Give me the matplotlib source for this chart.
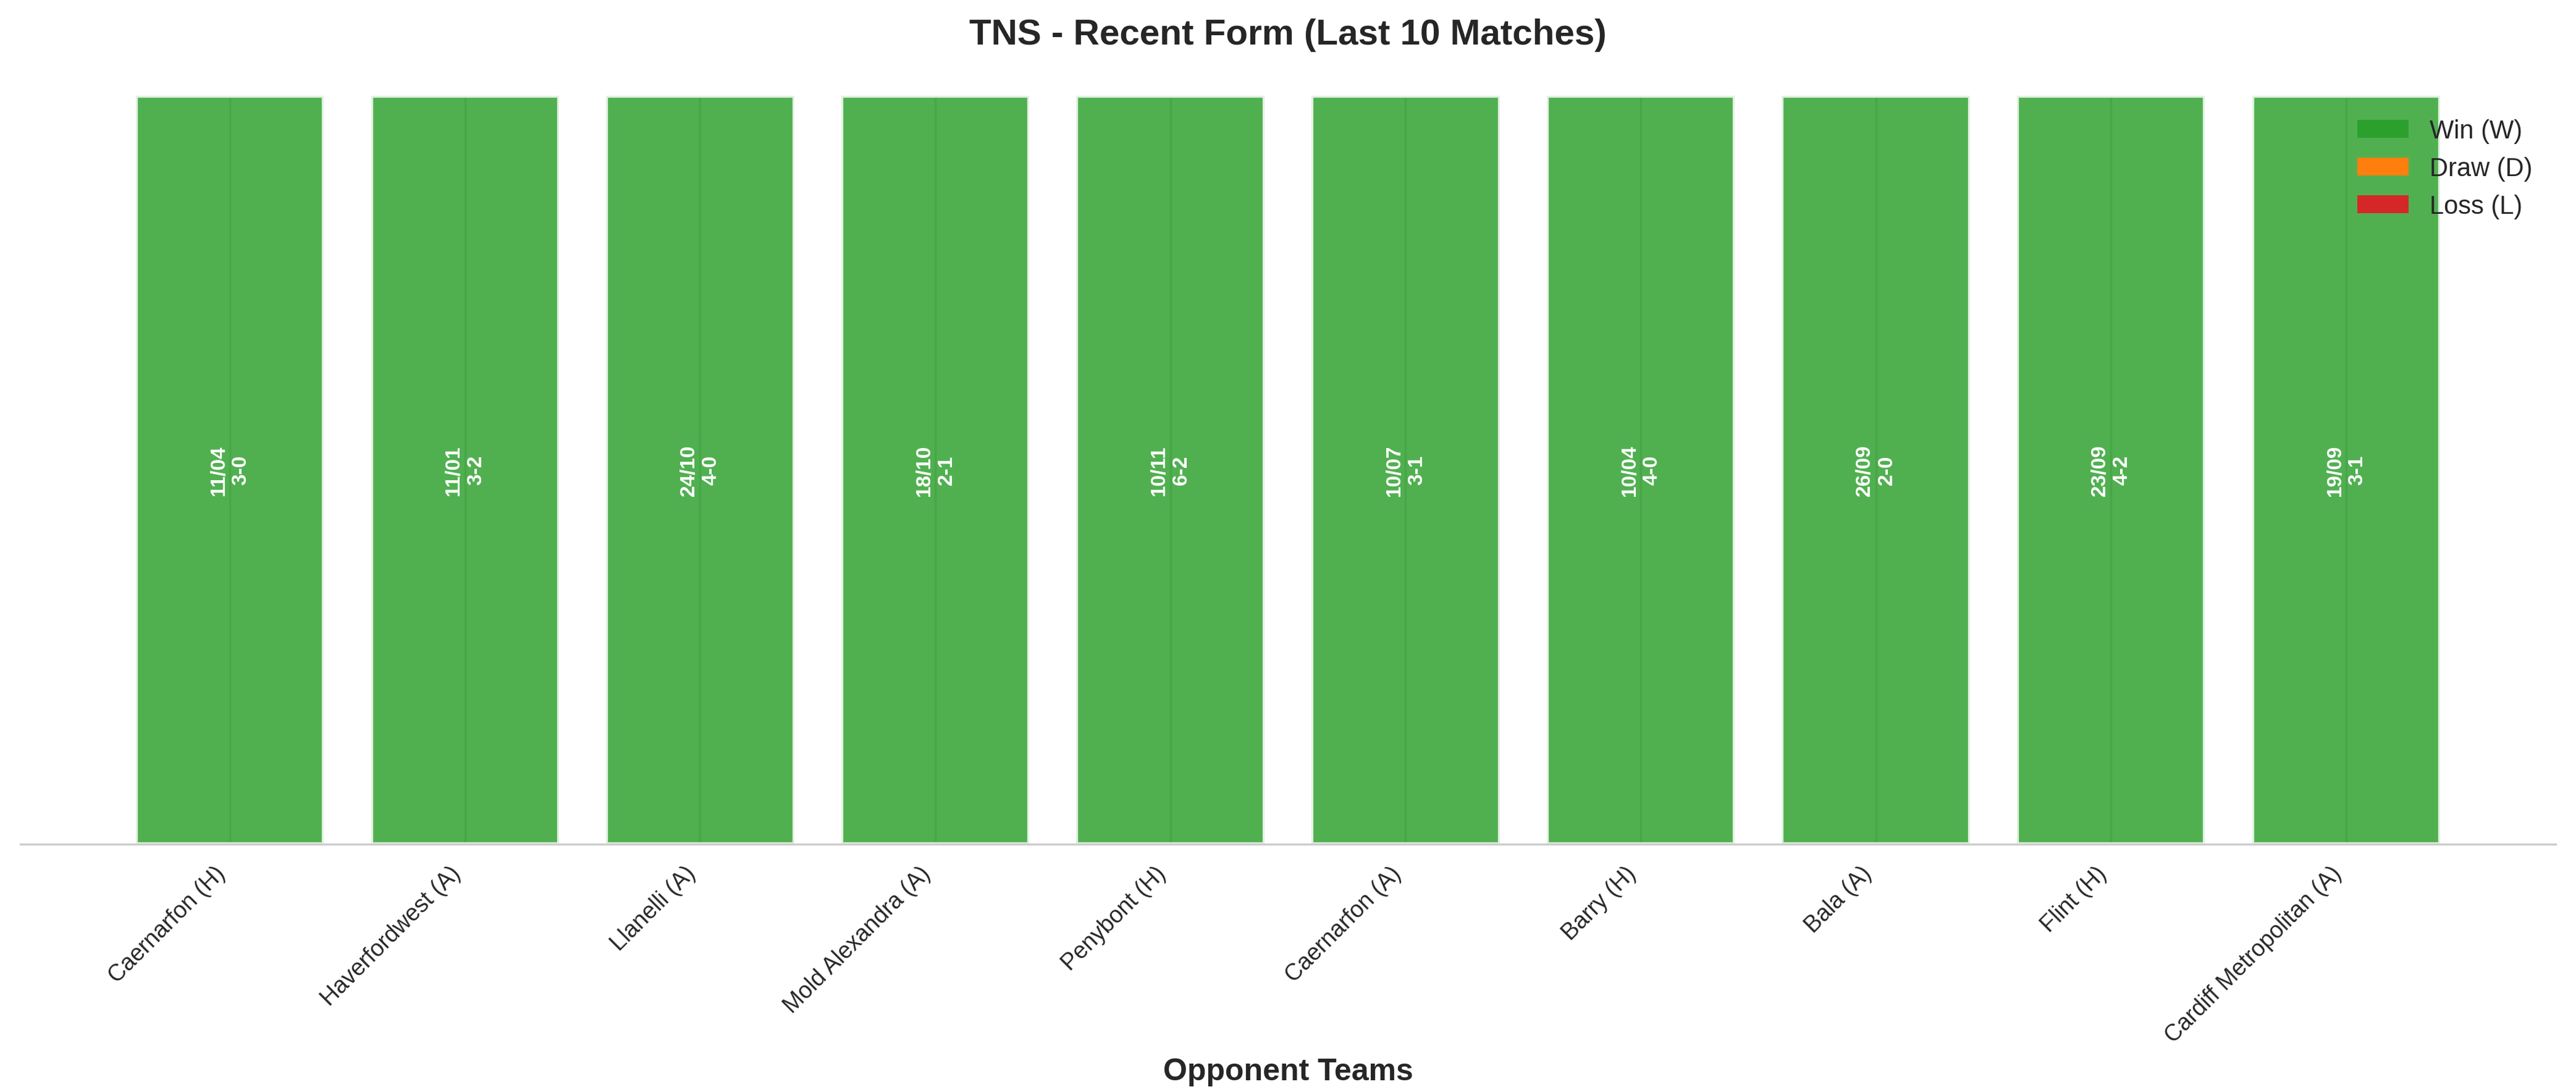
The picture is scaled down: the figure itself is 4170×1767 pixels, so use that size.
import numpy as np
import matplotlib
matplotlib.use("Agg")
import matplotlib.pyplot as plt
import seaborn as sns
from matplotlib.patches import Patch

# Recent form data
opponents = ['Caernarfon (H)', 'Haverfordwest (A)', 'Llanelli (A)', 'Mold Alexandra (A)',
             'Penybont (H)', 'Caernarfon (A)', 'Barry (H)', 'Bala (A)', 'Flint (H)',
             'Cardiff Metropolitan (A)']
dates = ['11/04', '11/01', '24/10', '18/10', '10/11', '10/07', '10/04', '26/09', '23/09', '19/09']
scores = ['3-0', '3-2', '4-0', '2-1', '6-2', '3-1', '4-0', '2-0', '4-2', '3-1']
results = ['W', 'W', 'W', 'W', 'W', 'W', 'W', 'W', 'W', 'W']
heights = [1, 1, 1, 1, 1, 1, 1, 1, 1, 1]

result_colors = {'W': '#2ca02c', 'D': '#ff7f0e', 'L': '#d62728'}

sns.set_style("whitegrid")
plt.rcParams['font.family'] = ['Liberation Sans', 'DejaVu Sans']

fig, ax = plt.subplots(figsize=(13.9, 5.893), dpi=300)

x = np.arange(len(opponents))
colors = [result_colors[r] for r in results]
bars = ax.bar(x, heights, color=colors, alpha=0.83, edgecolor='white', linewidth=1.5)

for i, b in enumerate(bars):
    ax.text(b.get_x() + b.get_width() / 2, b.get_height() / 2,
            dates[i] + '\n' + scores[i], ha='center', va='center',
            rotation=90, color='white', fontweight='bold', fontsize=8)

ax.set_xticks(x)
ax.set_xticklabels(opponents, rotation=45, ha='right', fontsize=9)
ax.set_yticks([])
ax.set_ylim(0, 1)
ax.set_xlabel('Opponent Teams', fontsize=12, fontweight='bold')
ax.set_title('TNS - Recent Form (Last 10 Matches)', fontsize=14, fontweight='bold', pad=20)

handles = [Patch(facecolor=result_colors['W'], edgecolor='none', label='Win (W)'),
           Patch(facecolor=result_colors['D'], edgecolor='none', label='Draw (D)'),
           Patch(facecolor=result_colors['L'], edgecolor='none', label='Loss (L)')]
ax.legend(handles=handles, loc='upper right', frameon=False, fontsize=10)

sns.despine(left=True)

fig.subplots_adjust(left=0.008, right=0.992, bottom=0.227, top=0.912)
fig.savefig('out.png', dpi=300)
